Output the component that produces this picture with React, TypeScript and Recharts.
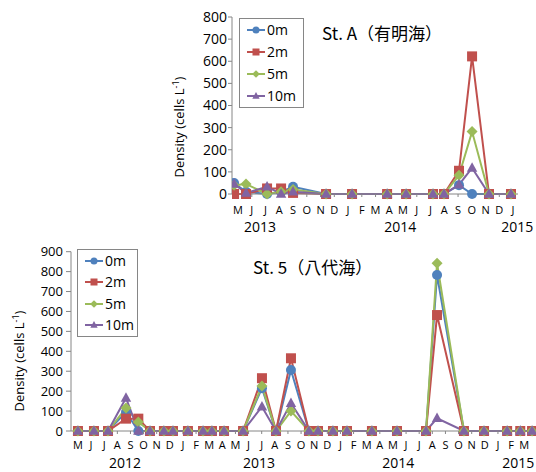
import React from "react"
import { Legend, Line, LineChart, XAxis, YAxis } from "recharts"

// Excel 2007 default series colours
const BLUE = "#4f81bd"
const RED = "#c0504d"
const GREEN = "#9bbb59"
const PURPLE = "#8064a2"
const AXIS = "#868686"
const FONT = "'Open Sans', 'Liberation Sans', sans-serif"
const CJK = "'Noto Sans CJK JP', 'Noto Sans', sans-serif"

const MONTH_LETTERS = ["J", "F", "M", "A", "M", "J", "J", "A", "S", "O", "N", "D"]

// x = months counted from Jan 2012 (0 = Jan 2012, 12 = Jan 2013 ...)

// St. A (有明海)
const stAMonths = [15.71, 16.58, 18.11, 19.13, 20.0, 22.4, 24.29, 26.84, 28.22, 30.18, 30.98, 32.07, 33.02, 34.25, 35.85]
const stA0m = [50, 10, 0, 10, 33, 0, 0, 0, 0, 0, 0, 40, 0, 0, 0]
const stA2m = [0, 0, 25, 25, 5, 0, 0, 0, 0, 0, 0, 105, 622, 0, 0]
const stA5m = [40, 45, 0, 10, 20, 0, 0, 0, 0, 0, 0, 85, 282, 0, 0]
const stA10m = [45, 5, 33, 0, 10, 0, 0, 0, 0, 0, 0, 42, 118, 0, 0]
const stAMonthTicks = [16, 17, 18, 19, 20, 21, 22, 23, 24, 25, 26, 27, 28, 29, 30, 31, 32, 33, 34, 35, 36]
const stAYearTicks = [17.6, 27.8, 36.3]
const stAYearLabels = ["2013", "2014", "2015"]
const stAYTicks = [0, 100, 200, 300, 400, 500, 600, 700, 800]

// St. 5 (八代海)
const st5Months = [
  4.0, 5.22, 6.29, 7.66, 8.6, 9.49, 10.55, 11.24, 12.38, 13.53, 14.21, 15.13, 16.58, 18.02, 19.09,
  20.23, 21.6, 22.29, 23.43, 24.5, 26.4, 28.31, 30.52, 31.36, 33.41, 34.94, 36.7, 37.7, 38.6,
]
const st50m = [0, 0, 0, 95, 0, 0, 0, 0, 0, 0, 0, 0, 0, 215, 0, 306, 0, 0, 0, 0, 0, 0, 0, 783, 0, 0, 0, 0, 0]
const st52m = [0, 0, 0, 62, 62, 0, 0, 0, 0, 0, 0, 0, 0, 265, 0, 365, 0, 0, 0, 0, 0, 0, 0, 582, 0, 0, 0, 0, 0]
const st55m = [0, 0, 0, 115, 45, 0, 0, 0, 0, 0, 0, 0, 0, 226, 0, 100, 0, 0, 0, 0, 0, 0, 0, 842, 0, 0, 0, 0, 0]
const st510m = [0, 0, 0, 166, 0, 0, 0, 0, 0, 0, 0, 0, 0, 122, 0, 139, 0, 0, 0, 0, 0, 0, 0, 64, 0, 0, 0, 0, 0]
const st5MonthTicks = [
  4, 5, 6, 7, 8, 9, 10, 11, 12, 13, 14, 15, 16, 17, 18, 19, 20, 21, 22, 23, 24, 25, 26, 27, 28, 29, 30,
  31, 32, 33, 34, 35, 36, 37, 38,
]
const st5YearTicks = [7.58, 17.8, 28.4, 37.55]
const st5YearLabels = ["2012", "2013", "2014", "2015"]
const st5YTicks = [0, 100, 200, 300, 400, 500, 600, 700, 800, 900]

const SERIES = [
  { key: "d0", name: "0m", color: BLUE, shape: "circle" },
  { key: "d2", name: "2m", color: RED, shape: "square" },
  { key: "d5", name: "5m", color: GREEN, shape: "diamond" },
  { key: "d10", name: "10m", color: PURPLE, shape: "triangle" },
]

function buildRows(t: number[], a: number[], b: number[], c: number[], d: number[]) {
  return t.map((x, i) => ({ t: x, d0: a[i], d2: b[i], d5: c[i], d10: d[i] }))
}

const stARows = buildRows(stAMonths, stA0m, stA2m, stA5m, stA10m)
const st5Rows = buildRows(st5Months, st50m, st52m, st55m, st510m)

function Marker({ shape, color, cx, cy, s }: { shape: string; color: string; cx: number; cy: number; s: number }) {
  if (cx == null || cy == null) return null
  if (shape === "circle") return <circle cx={cx} cy={cy} r={s * 0.5} fill={color} />
  if (shape === "square")
    return <rect x={cx - s * 0.5} y={cy - s * 0.5} width={s} height={s} fill={color} />
  if (shape === "diamond") {
    const h = s * 0.55
    return <polygon points={`${cx},${cy - h} ${cx + h},${cy} ${cx},${cy + h} ${cx - h},${cy}`} fill={color} />
  }
  const h = s * 0.95
  return (
    <polygon
      points={`${cx},${cy - h * 0.6} ${cx + h * 0.55},${cy + h * 0.4} ${cx - h * 0.55},${cy + h * 0.4}`}
      fill={color}
    />
  )
}

function LegendBox({ w, h, rowH }: { w: number; h: number; rowH: number }) {
  return (
    <div
      style={{
        width: w,
        height: h,
        boxSizing: "border-box",
        border: `1px solid ${AXIS}`,
        background: "#fff",
        padding: "0 0 0 7px",
        display: "flex",
        flexDirection: "column",
        justifyContent: "center",
      }}
    >
      {SERIES.map((s) => (
        <div key={s.key} style={{ display: "flex", alignItems: "center", height: rowH }}>
          <svg width={18} height={12} style={{ display: "block" }}>
            <line x1={0} x2={18} y1={6} y2={6} stroke={s.color} strokeWidth={2} />
            <Marker shape={s.shape} color={s.color} cx={9} cy={6} s={7} />
          </svg>
          <span style={{ marginLeft: 2, fontSize: 14, fontFamily: FONT, lineHeight: "16px", color: "#000" }}>
            {s.name}
          </span>
        </div>
      ))}
    </div>
  )
}

type ChartProps = {
  rows: any[]
  width: number
  height: number
  margin: { top: number; right: number; bottom: number; left: number }
  domain: [number, number]
  monthTicks: number[]
  yearTicks: number[]
  yearLabels: string[]
  yTicks: number[]
  yAxisWidth: number
  yFont: number
  yTickSize: number
  yTickMargin: number
  monthMargin: number
  yearMargin: number
  yearHeight: number
  legend: { left: number; top: number; w: number; h: number; rowH: number }
}

function StationChart(p: ChartProps) {
  return (
    <LineChart width={p.width} height={p.height} data={p.rows} margin={p.margin}>
      <XAxis
        xAxisId="m"
        type="number"
        dataKey="t"
        domain={p.domain}
        allowDataOverflow
        ticks={p.monthTicks}
        interval={0}
        tickFormatter={(v: number) => MONTH_LETTERS[Math.round(v) % 12]}
        tick={{ fontSize: 11, fill: "#000", fontFamily: FONT }}
        tickSize={3}
        tickMargin={p.monthMargin}
        axisLine={{ stroke: AXIS }}
        tickLine={{ stroke: AXIS }}
        height={22}
      />
      <XAxis
        xAxisId="y"
        type="number"
        dataKey="t"
        domain={p.domain}
        allowDataOverflow
        ticks={p.yearTicks}
        interval={0}
        tickFormatter={(v: number) => p.yearLabels[p.yearTicks.indexOf(v)]}
        tick={{ fontSize: 14, fill: "#000", fontFamily: FONT }}
        tickSize={0}
        tickMargin={p.yearMargin}
        axisLine={false}
        tickLine={false}
        height={p.yearHeight}
      />
      <YAxis
        type="number"
        domain={[0, p.yTicks[p.yTicks.length - 1]]}
        ticks={p.yTicks}
        interval={0}
        width={p.yAxisWidth}
        tick={{ fontSize: p.yFont, fill: "#000", fontFamily: FONT }}
        tickSize={p.yTickSize}
        tickMargin={p.yTickMargin}
        axisLine={{ stroke: AXIS }}
        tickLine={{ stroke: AXIS }}
      />
      <Legend
        layout="vertical"
        align="center"
        verticalAlign="middle"
        wrapperStyle={{ left: p.legend.left, top: p.legend.top, width: p.legend.w }}
        content={() => <LegendBox w={p.legend.w} h={p.legend.h} rowH={p.legend.rowH} />}
      />
      {SERIES.map((s) => (
        <Line
          key={s.key}
          xAxisId="m"
          dataKey={s.key}
          name={s.name}
          stroke={s.color}
          strokeWidth={2}
          isAnimationActive={false}
          activeDot={false}
          dot={(d: any) => (
            <Marker key={`${s.key}-${d.index}`} shape={s.shape} color={s.color} cx={d.cx} cy={d.cy} s={10} />
          )}
        />
      ))}
    </LineChart>
  )
}

function YTitle({ x, y }: { x: number; y: number }) {
  return (
    <div
      style={{
        position: "absolute",
        left: x,
        top: y,
        transform: "translate(-50%, -50%) rotate(-90deg)",
        whiteSpace: "nowrap",
        fontFamily: FONT,
        fontSize: 13,
        lineHeight: "16px",
        color: "#000",
      }}
    >
      Density (cells L<sup style={{ fontSize: 9, lineHeight: 0 }}>-1</sup>)
    </div>
  )
}

function Title({ x, y, text }: { x: number; y: number; text: string }) {
  return (
    <div
      style={{
        position: "absolute",
        left: x,
        top: y,
        fontFamily: CJK,
        fontSize: 17,
        lineHeight: "20px",
        whiteSpace: "nowrap",
        color: "#000",
      }}
    >
      {text}
    </div>
  )
}

export default function App() {
  return (
    <div style={{ position: "absolute", left: 0, top: 0, width: 536, height: 472, background: "#fff", overflow: "hidden" }}>
      <div style={{ position: "absolute", left: 0, top: 0 }}>
        <StationChart
          rows={stARows}
          width={536}
          height={240}
          margin={{ top: 17, right: 18, bottom: 0, left: 0 }}
          domain={[15.56, 36.36]}
          monthTicks={stAMonthTicks}
          yearTicks={stAYearTicks}
          yearLabels={stAYearLabels}
          yTicks={stAYTicks}
          yAxisWidth={232}
          yFont={14}
          yTickSize={4}
          yTickMargin={1}
          monthMargin={9}
          yearMargin={6}
          yearHeight={24}
          legend={{ left: 239, top: 18, w: 65, h: 90, rowH: 22 }}
        />
      </div>
      <div style={{ position: "absolute", left: 0, top: 240 }}>
        <StationChart
          rows={st5Rows}
          width={536}
          height={232}
          margin={{ top: 11.7, right: 0, bottom: 0, left: 0 }}
          domain={[3.47, 38.9]}
          monthTicks={st5MonthTicks}
          yearTicks={st5YearTicks}
          yearLabels={st5YearLabels}
          yTicks={st5YTicks}
          yAxisWidth={71}
          yFont={13}
          yTickSize={5}
          yTickMargin={3}
          monthMargin={7}
          yearMargin={5}
          yearHeight={19}
          legend={{ left: 77, top: 9, w: 61, h: 88, rowH: 21.7 }}
        />
      </div>
      <Title x={322} y={23} text="St. A（有明海）" />
      <Title x={253} y={257} text="St. 5（八代海）" />
      <YTitle x={179} y={127} />
      <YTitle x={19} y={361} />
    </div>
  )
}
